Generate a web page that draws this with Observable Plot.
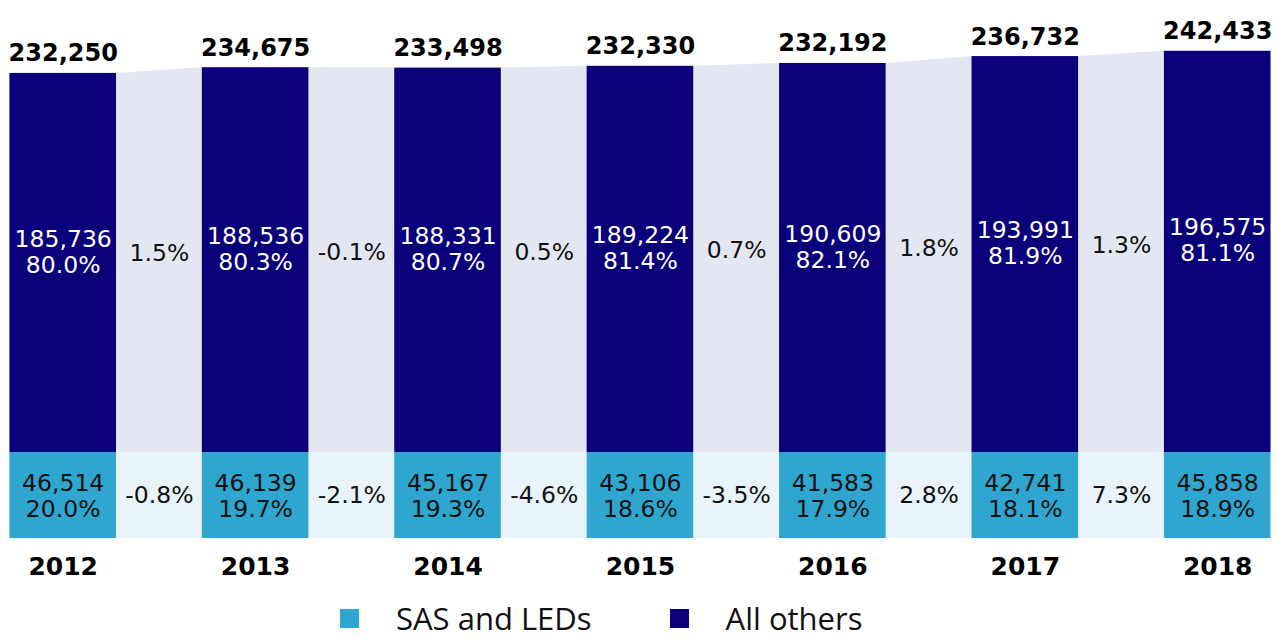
<!DOCTYPE html>
<html>
<head>
<meta charset="utf-8">
<script src="https://cdn.jsdelivr.net/npm/d3@7"></script>
<script src="https://cdn.jsdelivr.net/npm/@observablehq/plot@0.6"></script>
<style>
  html, body { margin: 0; padding: 0; background: #fff; }
  #chart svg { display: block; }
  .legend { display: flex; align-items: center; height: 31px; line-height: 31px; padding-left: 340px; margin-top: 5px;
            font-family: "Open Sans", "Liberation Sans", sans-serif; font-size: 31px; color: #111; }
  .legend .sw { width: 19px; height: 19px; display: inline-block; margin-right: 37px; }
  .legend .item { display: flex; align-items: center; margin-right: 78px; }
</style>
</head>
<body>
<div id="chart"></div>
<div class="legend">
  <div class="item"><span class="sw" style="background:#2fa6cf"></span><span>SAS and LEDs</span></div>
  <div class="item"><span class="sw" style="background:#0a007a"></span><span>All others</span></div>
</div>
<script>
// ---- data ----
const years = ["2012", "2013", "2014", "2015", "2016", "2017", "2018"];
const sasLeds = [46514, 46139, 45167, 43106, 41583, 42741, 45858];
const allOthers = [185736, 188536, 188331, 189224, 190609, 193991, 196575];
const totals = [232250, 234675, 233498, 232330, 232192, 236732, 242433];
const sasShare = ["20.0%", "19.7%", "19.3%", "18.6%", "17.9%", "18.1%", "18.9%"];
const othersShare = ["80.0%", "80.3%", "80.7%", "81.4%", "82.1%", "81.9%", "81.1%"];
const othersChange = ["1.5%", "-0.1%", "0.5%", "0.7%", "1.8%", "1.3%"];
const sasChange = ["-0.8%", "-2.1%", "-4.6%", "-3.5%", "2.8%", "7.3%"];

// ---- layout constants ----
const HW = 0.277;          // half bar width in x units
const BAND = 42140;        // fixed-height band used for the SAS row (y units)
const C_OTHERS = "#0a007a", C_SAS = "#2fa6cf", C_GAP_TOP = "#e4e6f1", C_GAP_BOT = "#e8f4fa";
const fmt = d3.format(",");

const bars = years.map((y, i) => ({
  i, year: y, sas: sasLeds[i], others: allOthers[i], total: totals[i],
  othersLabel: fmt(allOthers[i]) + "\n" + othersShare[i],
  sasLabel: fmt(sasLeds[i]) + "\n" + sasShare[i]
}));
const gaps = othersChange.map((c, i) => ({
  i, x1: i + HW, x2: i + 1 - HW, o1: allOthers[i], o2: allOthers[i + 1],
  oc: c, sc: sasChange[i]
}));
const gapArea = gaps.flatMap(g => [
  {g: g.i, x: g.x1, y: g.o1},
  {g: g.i, x: g.x2, y: g.o2}
]);

const font = "'DejaVu Sans', Verdana, sans-serif";

const chart = Plot.plot({
  width: 1279,
  height: 598,
  margin: 0,
  x: {type: "linear", domain: [0, 6], range: [62.7, 1217.2], axis: null},
  y: {type: "linear", domain: [-BAND, 200000], range: [538, 43.8], axis: null},
  style: {fontFamily: font, background: "#fff"},
  marks: [
    // connectors between bars
    Plot.areaY(gapArea, {x: "x", y1: 0, y2: "y", z: "g", fill: C_GAP_TOP, curve: "linear"}),
    Plot.rect(gaps, {x1: "x1", x2: "x2", y1: -BAND, y2: 0, fill: C_GAP_BOT}),
    // bars
    Plot.rect(bars, {x1: d => d.i - HW, x2: d => d.i + HW, y1: 0, y2: "others", fill: C_OTHERS}),
    Plot.rect(bars, {x1: d => d.i - HW, x2: d => d.i + HW, y1: -BAND, y2: 0, fill: C_SAS}),
    // labels in bars
    Plot.text(bars, {x: "i", y: d => d.others * 0.53, text: "othersLabel", fill: "white",
      fontSize: 23.5, lineHeight: 1.1, lineAnchor: "middle"}),
    Plot.text(bars, {x: "i", y: -BAND / 2, text: "sasLabel", fill: "#111",
      fontSize: 23.5, lineHeight: 1.1, lineAnchor: "middle"}),
    // change labels in gaps
    Plot.text(gaps, {x: d => d.i + 0.5, y: d => (d.o1 + d.o2) / 2 * 0.52, text: "oc", fill: "#111",
      fontSize: 23.5, lineAnchor: "middle"}),
    Plot.text(gaps, {x: d => d.i + 0.5, y: -BAND / 2, text: "sc", fill: "#111",
      fontSize: 23.5, lineAnchor: "middle"}),
    // totals on top
    Plot.text(bars, {x: "i", y: "others", text: d => fmt(d.total), fill: "#000",
      fontSize: 24, fontWeight: "bold", lineAnchor: "bottom", dy: -12}),
    // year labels
    Plot.text(bars, {x: "i", y: -BAND, text: "year", fill: "#000",
      fontSize: 25, fontWeight: "bold", lineAnchor: "top", dy: 19})
  ]
});
document.getElementById("chart").appendChild(chart);
</script>
</body>
</html>
